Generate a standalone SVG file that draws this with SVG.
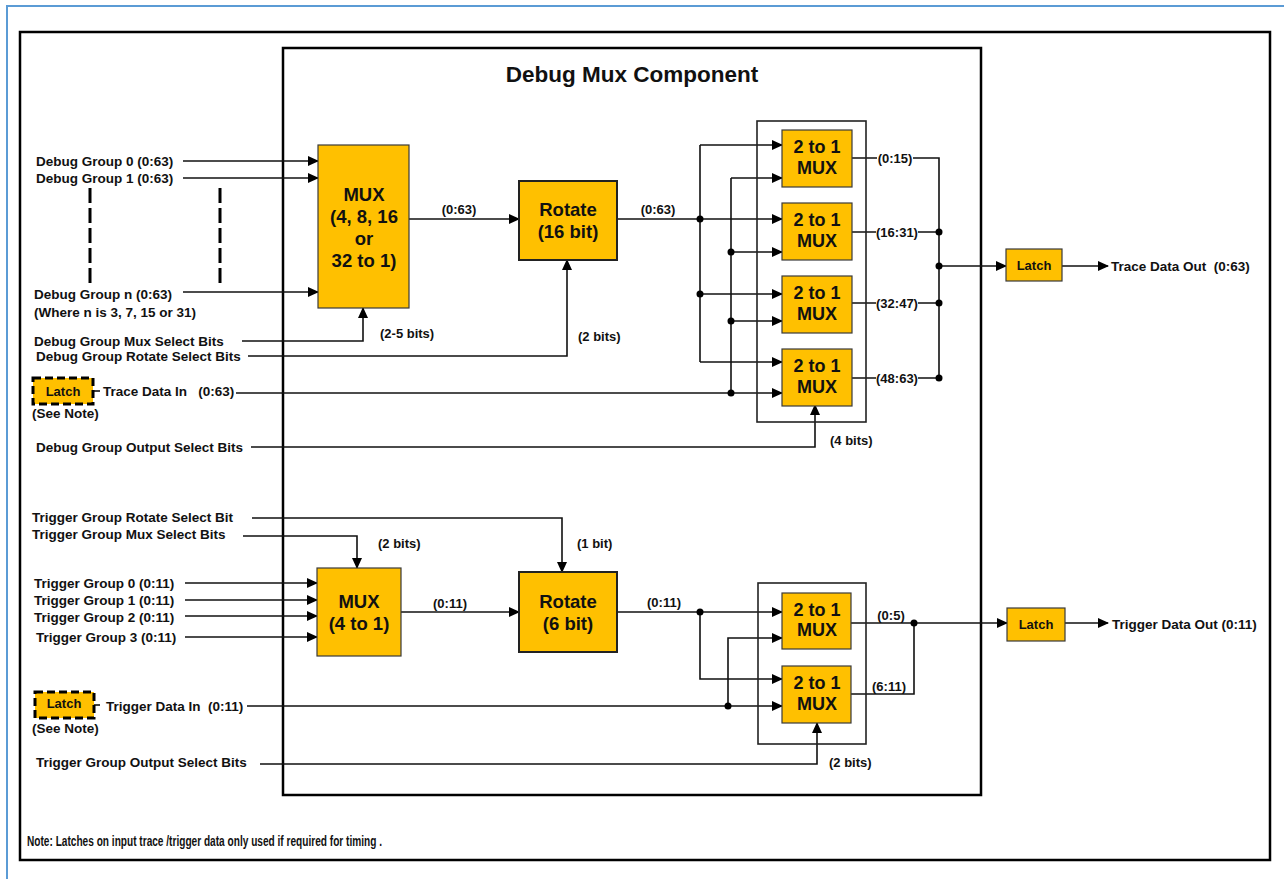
<svg xmlns="http://www.w3.org/2000/svg" width="1284" height="879" viewBox="0 0 1284 879">
<style>
text{font-family:"Liberation Sans",Arial,sans-serif;font-weight:bold;fill:#111;dominant-baseline:central}
.lbl{font-size:13.5px}
.sm{font-size:13px}
.blk{font-size:18.5px;text-anchor:middle}
.blk2{font-size:18px;text-anchor:middle}
.lt{font-size:13px;text-anchor:middle}
.mid{text-anchor:middle}
.w{stroke:#111;stroke-width:1.6;fill:none}
.a{marker-end:url(#ar)}
.box{fill:#FFC000;stroke:#3a3a3a;stroke-width:1.2}
.rot{fill:#FFC000;stroke:#222;stroke-width:2}
.dl{fill:#FFC000;stroke:#000;stroke-width:3;stroke-dasharray:8 4}
.grp{fill:none;stroke:#222;stroke-width:1.6}
.frame{fill:none;stroke:#000;stroke-width:2.5}
</style>
<defs>
<marker id="ar" markerUnits="userSpaceOnUse" markerWidth="11" markerHeight="10" refX="10" refY="5" orient="auto">
<path d="M0,0 L11,5 L0,10 z" fill="#000"/>
</marker>
</defs>
<rect width="1284" height="879" fill="#fff"/>
<path d="M7,879 V6 H1284" fill="none" stroke="#5B9BD5" stroke-width="2"/>
<rect class="frame" x="20" y="32" width="1250" height="828"/>
<g id="debug-mux-component">
<rect class="frame" x="283" y="48" width="698" height="747"/>
<text x="632" y="74" class="mid" style="font-size:22.5px">Debug Mux Component</text>
</g>

<g id="connectors">
<path class="w a" d="M183,161 H318"/>
<path class="w a" d="M183,178 H318"/>
<path class="w a" d="M183,292 H318"/>
<path d="M90,188 V283 M220,188 V283" stroke="#000" stroke-width="3" stroke-dasharray="15 5" fill="none"/>
<path class="w a" d="M242,341 H363 V308"/>
<path class="w a" d="M248,356 H567 V260"/>
<path class="w a" d="M409,219 H519"/>
<path class="w a" d="M617,219 H782"/>
<path class="w" d="M700,145 V362"/>
<path class="w a" d="M700,145 H782"/>
<path class="w a" d="M700,294 H782"/>
<path class="w a" d="M700,362 H782"/>
<path class="w a" d="M236,393 H782"/>
<path class="w" d="M93,391 H100"/>
<path class="w" d="M731,178 V393"/>
<path class="w a" d="M731,178 H782"/>
<path class="w a" d="M731,252 H782"/>
<path class="w a" d="M731,321 H782"/>
<path class="w a" d="M251,447 H815 V405"/>
<path class="w" d="M852,158 H877 M913,158 H939 V378"/>
<path class="w" d="M852,232 H876 M918,232 H939"/>
<path class="w" d="M852,303 H876 M918,303 H939"/>
<path class="w" d="M852,378 H876 M918,378 H939"/>
<path class="w a" d="M939,266 H1006"/>
<path class="w a" d="M1062,266 H1108"/>
<g fill="#000">
<circle cx="700" cy="219" r="3.5"/><circle cx="700" cy="294" r="3.5"/>
<circle cx="731" cy="252" r="3.5"/><circle cx="731" cy="321" r="3.5"/><circle cx="731" cy="393" r="3.5"/>
<circle cx="939" cy="232" r="3.5"/><circle cx="939" cy="266" r="3.5"/><circle cx="939" cy="303" r="3.5"/><circle cx="939" cy="378" r="3.5"/>
</g>
<path class="w a" d="M252,518 H562 V572"/>
<path class="w a" d="M243,536 H357 V568"/>
<path class="w a" d="M185,583 H317"/>
<path class="w a" d="M185,600 H317"/>
<path class="w a" d="M185,616 H317"/>
<path class="w a" d="M185,637 H317"/>
<path class="w a" d="M401,612 H519"/>
<path class="w a" d="M617,612 H782"/>
<path class="w a" d="M700,612 V679 H782"/>
<path class="w a" d="M247,706 H782"/>
<path class="w" d="M94,705 H100"/>
<path class="w a" d="M728,706 V638 H782"/>
<path class="w a" d="M851,623 H1007"/>
<path class="w" d="M851,694 H914 V623"/>
<path class="w a" d="M1065,623 H1108"/>
<path class="w a" d="M260,764 H817 V723"/>
<g fill="#000">
<circle cx="700" cy="612" r="3.5"/><circle cx="728" cy="706" r="3.5"/><circle cx="914" cy="623" r="3.5"/>
</g>
</g>

<g id="labels">
<text class="lbl" x="36" y="161">Debug Group 0 (0:63)</text>
<text class="lbl" x="36" y="178">Debug Group 1 (0:63)</text>
<text class="lbl" x="34" y="294">Debug Group n (0:63)</text>
<text class="lbl" x="34" y="312">(Where n is 3, 7, 15 or 31)</text>
<text class="lbl" x="34" y="341">Debug Group Mux Select Bits</text>
<text class="lbl" x="36" y="356">Debug Group Rotate Select Bits</text>
<text class="lbl" x="103" y="391" xml:space="preserve">Trace Data In   (0:63)</text>
<text class="lbl" x="32" y="413">(See Note)</text>
<text class="lbl" x="36" y="447">Debug Group Output Select Bits</text>
<text class="lbl" x="32" y="517">Trigger Group Rotate Select Bit</text>
<text class="lbl" x="32" y="534">Trigger Group Mux Select Bits</text>
<text class="lbl" x="34" y="583">Trigger Group 0 (0:11)</text>
<text class="lbl" x="34" y="600">Trigger Group 1 (0:11)</text>
<text class="lbl" x="34" y="617">Trigger Group 2 (0:11)</text>
<text class="lbl" x="36" y="637">Trigger Group 3 (0:11)</text>
<text class="lbl" x="106" y="706" xml:space="preserve">Trigger Data In  (0:11)</text>
<text class="lbl" x="32" y="728">(See Note)</text>
<text class="lbl" x="36" y="762">Trigger Group Output Select Bits</text>
<text class="sm" x="380" y="333">(2-5 bits)</text>
<text class="sm" x="578" y="336">(2 bits)</text>
<text class="sm" x="830" y="440">(4 bits)</text>
<text class="sm" x="378" y="543">(2 bits)</text>
<text class="sm" x="577" y="543">(1 bit)</text>
<text class="sm" x="829" y="762">(2 bits)</text>
<text class="sm mid" x="459" y="209">(0:63)</text>
<text class="sm mid" x="658" y="209">(0:63)</text>
<text class="sm mid" x="450" y="603">(0:11)</text>
<text class="sm mid" x="664" y="602">(0:11)</text>
<text class="sm mid" x="895" y="158">(0:15)</text>
<text class="sm mid" x="897" y="232">(16:31)</text>
<text class="sm mid" x="897" y="303">(32:47)</text>
<text class="sm mid" x="897" y="378">(48:63)</text>
<text class="sm mid" x="891" y="615">(0:5)</text>
<text class="sm mid" x="889" y="686">(6:11)</text>
<text class="lbl" x="1111" y="266" xml:space="preserve">Trace Data Out  (0:63)</text>
<text class="lbl" x="1112" y="624" xml:space="preserve">Trigger Data Out (0:11)</text>
<text x="27" y="841" style="font-family:'Liberation Sans Narrow','Liberation Sans',Arial,sans-serif;font-size:14px" textLength="355" lengthAdjust="spacingAndGlyphs">Note: Latches on input trace /trigger data only used if required for timing .</text>
</g>

<g id="debug-mux">
<rect class="box" x="318" y="145" width="91" height="163"/>
<text class="blk" x="364" y="194">MUX</text>
<text class="blk" x="364" y="216">(4, 8, 16</text>
<text class="blk" x="364" y="238">or</text>
<text class="blk" x="364" y="260">32 to 1)</text>
</g>
<g id="debug-rotate">
<rect class="rot" x="519" y="181" width="98" height="79"/>
<text class="blk" x="568" y="209">Rotate</text>
<text class="blk" x="568" y="231">(16 bit)</text>
</g>
<g id="debug-2to1-group">
<rect class="grp" x="757" y="121" width="109" height="301"/>
</g>
<g id="dmux1"><rect class="box" x="782" y="130" width="70" height="57"/><text class="blk2" x="817" y="147">2 to 1</text><text class="blk2" x="817" y="168">MUX</text></g>
<g id="dmux2"><rect class="box" x="782" y="203" width="70" height="57"/><text class="blk2" x="817" y="220">2 to 1</text><text class="blk2" x="817" y="241">MUX</text></g>
<g id="dmux3"><rect class="box" x="782" y="276" width="70" height="57"/><text class="blk2" x="817" y="293">2 to 1</text><text class="blk2" x="817" y="314">MUX</text></g>
<g id="dmux4"><rect class="box" x="782" y="349" width="70" height="57"/><text class="blk2" x="817" y="366">2 to 1</text><text class="blk2" x="817" y="387">MUX</text></g>
<g id="trace-latch"><rect class="box" x="1006" y="249" width="56" height="32"/><text class="lt" x="1034" y="265">Latch</text></g>
<g id="trace-in-latch"><rect class="dl" x="33" y="378" width="60" height="26"/><text class="lt" x="63" y="391">Latch</text></g>

<g id="trigger-mux">
<rect class="box" x="317" y="568" width="84" height="88"/>
<text class="blk" x="359" y="601">MUX</text>
<text class="blk" x="359" y="623">(4 to 1)</text>
</g>
<g id="trigger-rotate">
<rect class="rot" x="519" y="572" width="98" height="80"/>
<text class="blk" x="568" y="601">Rotate</text>
<text class="blk" x="568" y="623">(6 bit)</text>
</g>
<g id="trigger-2to1-group"><rect class="grp" x="758" y="583" width="108" height="161"/></g>
<g id="tmux1"><rect class="box" x="782" y="593" width="69" height="56"/><text class="blk2" x="817" y="610">2 to 1</text><text class="blk2" x="817" y="630">MUX</text></g>
<g id="tmux2"><rect class="box" x="782" y="666" width="69" height="57"/><text class="blk2" x="817" y="683">2 to 1</text><text class="blk2" x="817" y="704">MUX</text></g>
<g id="trigger-latch"><rect class="box" x="1007" y="608" width="58" height="33"/><text class="lt" x="1036" y="624">Latch</text></g>
<g id="trigger-in-latch"><rect class="dl" x="35" y="692" width="59" height="26"/><text class="lt" x="64" y="703">Latch</text></g>
</svg>
